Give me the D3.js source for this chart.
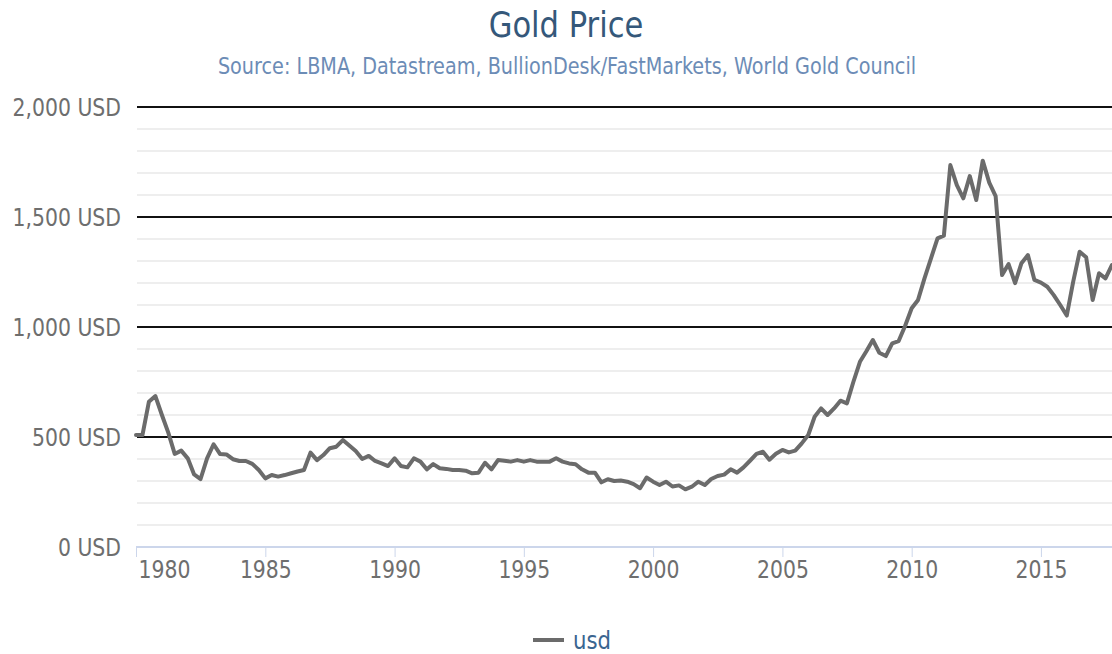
<!DOCTYPE html>
<html>
<head>
<meta charset="utf-8">
<script src="https://cdn.jsdelivr.net/npm/d3@7"></script>
<style>
  body { margin: 0; background: #fff; }
  text { font-family: "DejaVu Sans", sans-serif; }
</style>
</head>
<body>
<div id="chart"></div>
<script>
// ---- data ----
const chartTitle = "Gold Price";
const chartSubtitle = "Source: LBMA, Datastream, BullionDesk/FastMarkets, World Gold Council";
const seriesName = "usd";

// quarterly gold price in USD, first value = Q1 1980
const usd = [
  509, 509, 660, 686, 600, 520, 423, 438, 403, 330,   // 1980 - 1982.25
  309, 403, 467, 423, 421, 399, 391, 391, 378, 350,   // 1982.5 - 1984.75
  312, 327, 320, 327, 335, 343, 350, 429, 395, 418,   // 1985 - 1987.25
  449, 456, 486, 461, 436, 400, 414, 391, 380, 368,   // 1987.5 - 1989.75
  403, 368, 362, 403, 388, 353, 377, 358, 355, 350,   // 1990 - 1992.25
  350, 347, 335, 338, 383, 353, 395, 392, 388, 395,   // 1992.5 - 1994.75
  388, 395, 388, 388, 388, 403, 388, 380, 376, 353,   // 1995 - 1997.25
  338, 338, 294, 308, 300, 302, 297, 286, 267, 316,   // 1997.5 - 1999.75
  297, 282, 297, 275, 280, 262, 274, 297, 282, 309,   // 2000 - 2002.25
  323, 329, 353, 338, 362, 392, 423, 433, 397, 424,   // 2002.5 - 2004.75
  441, 430, 438, 471, 509, 592, 630, 600, 630, 665,   // 2005 - 2007.25
  653, 751, 842, 890, 941, 883, 868, 926, 936, 1006,  // 2007.5 - 2009.75
  1085, 1123, 1221, 1312, 1403, 1415, 1736, 1645, 1585, 1686, // 2010 - 2012.25
  1577, 1756, 1656, 1595, 1236, 1286, 1199, 1290, 1327, 1214, // 2012.5 - 2014.75
  1202, 1183, 1145, 1100, 1052, 1206, 1342, 1317, 1123, 1244, // 2015 - 2017.25
  1221, 1282                                                   // 2017.5 - 2017.75
];
const firstYear = 1980;
const yearTicks = [1980, 1985, 1990, 1995, 2000, 2005, 2010, 2015];
const majorTicks = [0, 500, 1000, 1500, 2000];
const minorTicks = d3.range(100, 2000, 100).filter(v => v % 500 !== 0);

// ---- layout ----
const W = 1112, H = 654;
const plotLeft = 136, plotRight = 1112, plotTop = 107, plotBottom = 547;
const sx = 0.85; // glyphs in the reference are a bit narrow

const dates = usd.map((_, i) => new Date(firstYear, i * 3, 1));
const data = usd.map((v, i) => ({ date: dates[i], value: v }));

const x = d3.scaleTime().domain(d3.extent(dates)).range([plotLeft, plotRight]);
const y = d3.scaleLinear().domain([0, 2000]).range([plotBottom, plotTop]);

const svg = d3.select("#chart").append("svg")
  .attr("width", W).attr("height", H);

// titles
svg.append("text")
  .attr("transform", `translate(566,37) scale(${sx},1)`)
  .attr("text-anchor", "middle")
  .attr("font-size", 36)
  .attr("fill", "#35587a")
  .text(chartTitle);

svg.append("text")
  .attr("transform", `translate(567,74) scale(${sx},1)`)
  .attr("text-anchor", "middle")
  .attr("font-size", 22.6)
  .attr("fill", "#6c8cb6")
  .text(chartSubtitle);

// grid
svg.append("g").selectAll("line").data(minorTicks).join("line")
  .attr("x1", plotLeft + 1).attr("x2", plotRight)
  .attr("y1", d => y(d)).attr("y2", d => y(d))
  .attr("stroke", "#e9e9e9").attr("stroke-width", 1.5);

svg.append("g").selectAll("line").data(majorTicks.filter(d => d > 0)).join("line")
  .attr("x1", plotLeft + 1).attr("x2", plotRight)
  .attr("y1", d => y(d)).attr("y2", d => y(d))
  .attr("stroke", "#111").attr("stroke-width", 2);

// y axis labels
svg.append("g")
  .attr("transform", `translate(${plotLeft},0)`)
  .call(d3.axisLeft(y).tickValues(majorTicks).tickSize(0).tickPadding(15)
    .tickFormat(d => d3.format(",")(d) + " USD"))
  .call(g => g.select(".domain").remove())
  .call(g => g.selectAll("text")
    .attr("font-family", "DejaVu Sans, sans-serif")
    .attr("font-size", 24)
    .attr("fill", "#6e6e6e")
    .attr("x", -15 / sx)
    .attr("dy", "0.36em")
    .attr("transform", `scale(${sx},1)`));

// x axis
svg.append("g")
  .attr("transform", `translate(0,${plotBottom})`)
  .call(d3.axisBottom(x)
    .tickValues(yearTicks.map(yr => new Date(yr, 0, 1)))
    .tickSize(10).tickPadding(4)
    .tickFormat(d3.timeFormat("%Y")))
  .call(g => g.select(".domain")
    .attr("d", `M${plotLeft},0H${plotRight}`)
    .attr("stroke", "#ccd6eb").attr("stroke-width", 2))
  .call(g => g.selectAll(".tick line").attr("stroke", "#ccd6eb"))
  .call(g => g.selectAll("text")
    .attr("font-family", "DejaVu Sans, sans-serif")
    .attr("font-size", 24)
    .attr("fill", "#6e6e6e")
    .attr("transform", `scale(${sx},1)`))
  .call(g => g.select(".tick text").attr("text-anchor", "start").attr("x", 2 / sx));

// line
svg.append("path")
  .datum(data)
  .attr("fill", "none")
  .attr("stroke", "#6b6b6b")
  .attr("stroke-width", 4)
  .attr("stroke-linejoin", "round")
  .attr("stroke-linecap", "round")
  .attr("d", d3.line().x(d => x(d.date)).y(d => y(d.value)));

// legend
const lg = svg.append("g").attr("transform", "translate(533,640)");
lg.append("line").attr("x1", 0).attr("x2", 31)
  .attr("stroke", "#6b6b6b").attr("stroke-width", 4);
lg.append("text")
  .attr("transform", `translate(40,9) scale(${sx},1)`)
  .attr("font-size", 25)
  .attr("fill", "#3a6590")
  .text(seriesName);
</script>
</body>
</html>
